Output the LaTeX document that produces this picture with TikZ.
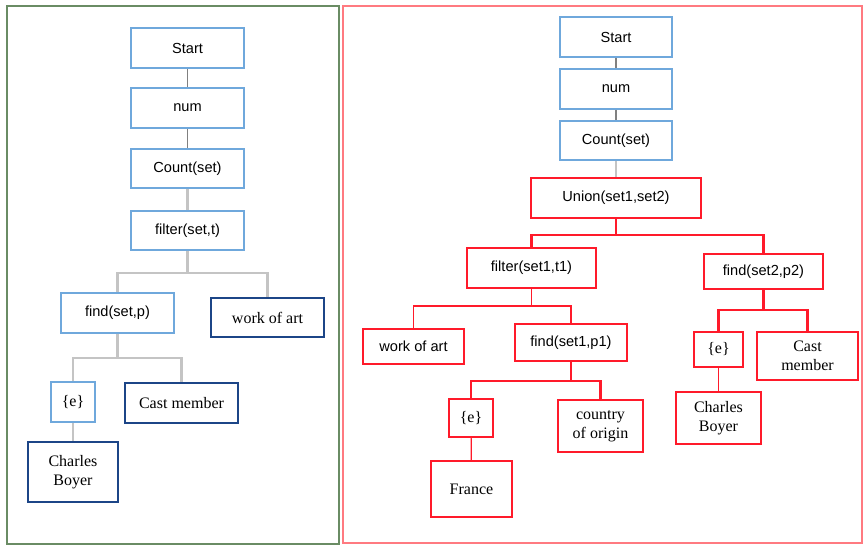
\documentclass[tikz,border=0pt]{standalone}
\usepackage{fontspec}
\setmainfont{Liberation Serif}
\newfontfamily\boxsans{Liberation Sans}
\begin{document}
\begin{tikzpicture}[x=1pt,y=-1pt,
  base/.style={rectangle, inner sep=2pt, align=center, fill=white},
  opsans/.style={font=\boxsans\fontsize{14.6}{17}\selectfont},
  ent/.style={font=\fontsize{16}{18.5}\selectfont},
  lightbox/.style={base, draw=lblue, line width=2pt},
  darkbox/.style={base, draw=dblue, line width=2.4pt},
  redbox/.style={base, draw=rred, line width=2.4pt},
  sz/.style 2 args={minimum width=#1pt, minimum height=#2pt},
  thinlink/.style={draw=dgrey, line width=1.2pt},
  greylink/.style={draw=lgrey, line width=2.4pt},
  redthin/.style={draw=rred, line width=1.2pt},
  redthick/.style={draw=rred, line width=2.4pt}]
\definecolor{lblue}{HTML}{6FA8DC}
\definecolor{dblue}{HTML}{1C4587}
\definecolor{rred}{HTML}{FF1A2A}
\definecolor{dgrey}{HTML}{808080}
\definecolor{lgrey}{HTML}{C4C4C4}
\definecolor{gframe}{HTML}{6A8C64}
\definecolor{rframe}{HTML}{FF7A80}
\useasboundingbox (0,0) rectangle (864,545);
\fill[white] (0,0) rectangle (864,545);

% panel frames
\draw[gframe, line width=1.4pt] (7,6) rectangle (339,544);
\draw[rframe, line width=1.4pt] (343,6) rectangle (862,543);

% ---- left tree ----
\node[lightbox, opsans, sz={113}{40}] (ls) at (187.5,48) {Start};
\node[lightbox, opsans, sz={113}{40}] (ln) at (187.5,108) {num};
\node[lightbox, opsans, sz={113}{39}] (lc) at (187.5,168.5) {Count(set)};
\node[lightbox, opsans, sz={113}{39}] (lf) at (187.5,230.5) {filter(set,t)};
\node[lightbox, opsans, sz={113}{40}] (lfind) at (117.5,313) {find(set,p)};
\node[darkbox, ent, sz={113}{39}] (lwoa) at (267.5,317.5) {work of art};
\node[lightbox, ent, sz={44}{40}] (le) at (73,402) {\{e\}};
\node[darkbox, ent, sz={113}{40}] (lcast) at (181.5,403) {Cast member};
\node[darkbox, ent, sz={90}{60}] (lcb) at (73,472) {Charles\\Boyer};

\coordinate (lj1) at (187.5,273);
\coordinate (lj2) at (117.5,358);
\draw[thinlink] (ls) -- (ln);
\draw[thinlink] (ln) -- (lc);
\draw[greylink] (lc) -- (lf);
\draw[greylink] (lf) -- (lj1) -| (lfind.north);
\draw[greylink] (lj1) -| (lwoa.north);
\draw[greylink] (lfind) -- (lj2) -| (le.north);
\draw[greylink] (lj2) -| (lcast.north);
\draw[greylink] (le) -- (lcb);

% ---- right tree ----
\node[lightbox, opsans, sz={112}{40}] (rs) at (616,37) {Start};
\node[lightbox, opsans, sz={112}{40}] (rn) at (616,89) {num};
\node[lightbox, opsans, sz={112}{39}] (rc) at (616,140.5) {Count(set)};
\node[redbox, opsans, sz={170}{40}] (ru) at (616,198) {Union(set1,set2)};
\node[redbox, opsans, sz={129}{40}] (rf) at (531.5,268) {filter(set1,t1)};
\node[redbox, opsans, sz={119}{35}] (rfind2) at (763.5,271.5) {find(set2,p2)};
\node[redbox, opsans, sz={101}{35}] (rwoa) at (413.5,346.5) {work of art};
\node[redbox, opsans, sz={112}{37}] (rfind1) at (571,342.5) {find(set1,p1)};
\node[redbox, ent, sz={44}{38}] (re1) at (471,418) {\{e\}};
\node[redbox, ent, sz={85}{52}] (rcty) at (600.5,426) {country\\of origin};
\node[redbox, ent, sz={81}{56}] (rfr) at (471.5,489) {France};
\node[redbox, ent, sz={49}{35}] (re2) at (718.5,349.5) {\{e\}};
\node[redbox, ent, sz={101}{48}] (rcast) at (807.5,356) {Cast\\member};
\node[redbox, ent, sz={85}{52}] (rcb) at (718.5,418) {Charles\\Boyer};

\coordinate (rj1) at (616,235);
\coordinate (rj2) at (531.5,306);
\coordinate (rj3) at (571,381);
\coordinate (rj4) at (763.5,310);
\draw[thinlink] (rs) -- (rn);
\draw[thinlink] (rn) -- (rc);
\draw[greylink] (rc) -- (ru);
\draw[redthick] (ru) -- (rj1) -| (rf.north);
\draw[redthick] (rj1) -| (rfind2.north);
\draw[redthin] (rf) -- (rj2) -| (rwoa.north);
\draw[redthin] (rj2) -| (rfind1.north);
\draw[redthick] (rfind1) -- (rj3) -| (re1.north);
\draw[redthick] (rj3) -| (rcty.north);
\draw[redthin] (re1) -- (rfr);
\draw[redthick] (rfind2) -- (rj4) -| (re2.north);
\draw[redthick] (rj4) -| (rcast.north);
\draw[redthin] (re2) -- (rcb);
\end{tikzpicture}
\end{document}
